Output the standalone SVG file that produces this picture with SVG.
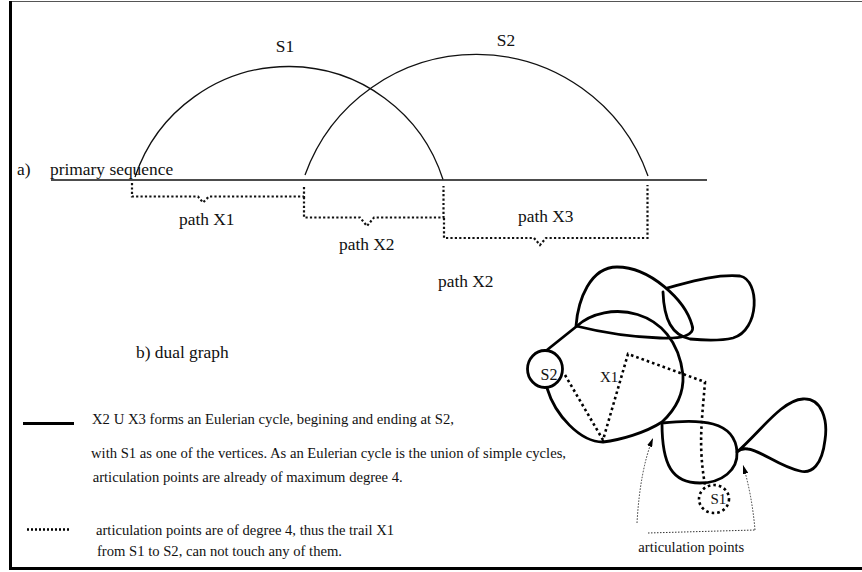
<svg xmlns="http://www.w3.org/2000/svg" width="862" height="572" viewBox="0 0 862 572">
<defs>
<style>
text{font-family:"Liberation Serif","Times New Roman",serif;fill:#111}
.big{font-size:17.4px}
.sm{font-size:14.7px}
.thin{fill:none;stroke:#111;stroke-width:1.3}
.dot{fill:none;stroke:#111;stroke-width:2.2;stroke-dasharray:2.2 2.2}
.g{fill:none;stroke:#000;stroke-width:2.8;stroke-linejoin:round;stroke-linecap:round}
.gdot{fill:none;stroke:#000;stroke-width:2.6;stroke-dasharray:2.6 3}
.arr{fill:none;stroke:#333;stroke-width:1;stroke-dasharray:1.5 1.5}
</style>
<marker id="ah" viewBox="0 0 10 6" refX="10" refY="3" markerWidth="9" markerHeight="5.4" markerUnits="userSpaceOnUse" orient="auto">
<path d="M0,0 L10,3 L0,6 Z" fill="#000"/>
</marker>
</defs>
<rect width="862" height="572" fill="#fff"/>
<g id="frame">
<line x1="10" y1="1.5" x2="862" y2="1.5" stroke="#555" stroke-width="1"/>
<line x1="10.5" y1="1" x2="10.5" y2="570" stroke="#000" stroke-width="3"/>
<line x1="9" y1="568.5" x2="862" y2="568.5" stroke="#000" stroke-width="3"/>
</g>
<g id="sequence">
<line class="thin" x1="51" y1="180" x2="707" y2="180"/>
<text x="17" y="175" class="big">a)</text>
<text x="50" y="175" class="big">primary sequence</text>
</g>
<g id="arcS1">
<path class="thin" d="M135,177 A162,162 0 0 1 443,179.5"/>
<text x="285" y="52" class="big" text-anchor="middle">S1</text>
</g>
<g id="arcS2">
<path class="thin" d="M305,175 A182,182 0 0 1 648,176"/>
<text x="506" y="46" class="big" text-anchor="middle">S2</text>
</g>
<g id="pathX1">
<path class="dot" d="M132,183 L132,196.5 L198,196.5 L203,202.5 L209,196.5 L304,196.5 L304,185"/>
<text x="179" y="224.5" class="big">path X1</text>
</g>
<g id="pathX2">
<path class="dot" d="M304,197 L304,217.5 L360,217.5 L367,226 L374,217.5 L443.5,217.5 L443.5,186"/>
<text x="339" y="250" class="big">path X2</text>
</g>
<g id="pathX3">
<path class="dot" d="M444,218 L444,238 L534,238 L540,245 L546,238 L647.5,238 L647.5,185"/>
<text x="518" y="221.5" class="big">path X3</text>
</g>
<text x="438" y="287" class="big">path X2</text>
<text x="136" y="357.5" class="big">b) dual graph</text>
<g id="dualgraph">
<g id="S2node">
<ellipse class="g" cx="545" cy="369" rx="17.5" ry="18.5"/>
<text x="540.5" y="380" style="font-size:16px">S2</text>
</g>
<g id="head">
<path class="g" d="M547,350 L577,326"/>
<path class="g" d="M577,326 C605,300 675,305 683,375 C684,395 675,410 662,422 C645,433 620,440 603,442 C580,442 555,415 547,388"/>
</g>
<g id="hat">
<path class="g" d="M576,326 C578,300 590,267 617,267 C650,267 685,300 692,325 C696,336 680,339 660,338 C630,337 600,332 576,326"/>
</g>
<g id="ear1">
<path class="g" d="M667,288 C690,282 715,274 740,276 C760,280 760,330 733,338 C720,341 700,340 690,339 C672,335 664,320 663,292"/>
</g>
<g id="lowerloop">
<path class="g" d="M662,423 C700,419 735,420 737,452 C738,470 722,483 700,483 C672,483 662,465 662,423"/>
</g>
<g id="ear2">
<path class="g" d="M737,452 C760,432 782,400 803,399 C822,398 828,420 825,440 C822,465 812,474 800,471 C780,467 760,450 748,449 C742,448 739,450 737,452"/>
</g>
<g id="S1node">
<ellipse class="gdot" cx="714" cy="499" rx="15" ry="14"/>
<text x="710.5" y="503.5" style="font-size:15px">S1</text>
</g>
<g id="trailX1">
<path class="gdot" d="M565,375 L603,440 L628,354 L705,382 C702,420 698,445 705,485"/>
<text x="600" y="381.5" style="font-size:15px">X1</text>
</g>
</g>
<g id="connectors">
<path class="arr" d="M637,523 Q640,470 653,438" marker-end="url(#ah)"/>
<path class="arr" d="M755,530 Q752,495 743,465" marker-end="url(#ah)"/>
<path class="arr" d="M648,533 L755,530"/>
</g>
<text x="638.3" y="552" class="sm" textLength="106" lengthAdjust="spacingAndGlyphs">articulation points</text>
<g id="legend">
<line x1="23" y1="423.5" x2="74" y2="423.5" stroke="#000" stroke-width="3"/>
<line x1="27" y1="529.5" x2="71" y2="529.5" stroke="#000" stroke-width="2.4" stroke-dasharray="2 2"/>
<text x="92" y="424" class="sm" textLength="362" lengthAdjust="spacingAndGlyphs">X2 U X3 forms an Eulerian cycle, begining and ending at S2,</text>
<text x="91" y="457.5" class="sm" textLength="475" lengthAdjust="spacingAndGlyphs">with S1 as one of the vertices. As an Eulerian cycle is the union of simple cycles,</text>
<text x="92.7" y="481.5" class="sm" textLength="310" lengthAdjust="spacingAndGlyphs">articulation points are already of maximum degree 4.</text>
<text x="96" y="535" class="sm" textLength="298" lengthAdjust="spacingAndGlyphs">articulation points are of degree 4, thus the trail X1</text>
<text x="97" y="555.5" class="sm" textLength="245" lengthAdjust="spacingAndGlyphs">from S1 to S2, can not touch any of them.</text>
</g>
</svg>
